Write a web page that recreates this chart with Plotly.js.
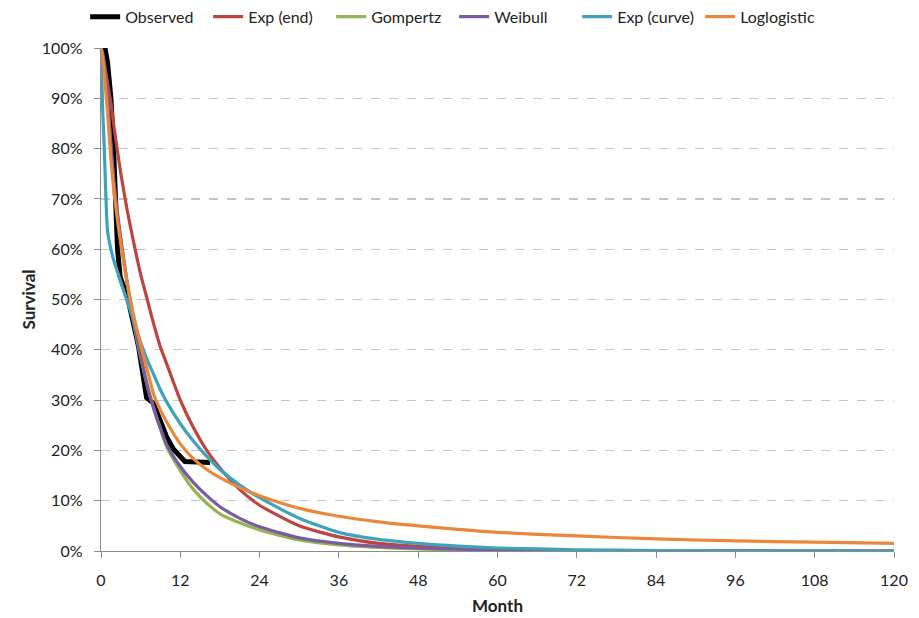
<!DOCTYPE html>
<html>
<head>
<meta charset="utf-8">
<script src="https://cdn.plot.ly/plotly-3.0.1.min.js"></script>
<style>html,body{margin:0;padding:0;background:#fff;}#chart{width:919px;height:618px;}</style>
</head>
<body>
<div id="chart"></div>
<script>
// Observed (Kaplan-Meier style)
const obsMonth = [0, 0.6, 1, 1.5, 1.9, 2.2, 2.5, 2.9, 4.1, 5.7, 6.9, 7.9, 9, 10, 11, 12, 12.7, 16.5];
const obsSurv  = [100, 100, 97, 90, 80, 70, 60, 54.5, 50, 40.5, 30.5, 29.4, 25.5, 22.5, 20.2, 18.6, 17.8, 17.6];

// Fitted curves (survival %, read at these months)
const months = [0, 0.25, 0.5, 0.75, 1, 1.5, 2, 3, 4, 5, 6, 7, 8, 9, 10, 12, 14, 16, 18, 21, 24, 30, 36, 42, 48, 54, 60, 72, 84, 96, 108, 120];
const expEnd     = [100, 98.5, 97, 95, 93, 89, 84, 75, 67.5, 61, 55, 50, 45, 40.5, 37, 30, 24.5, 20, 16.5, 12.2, 9.1, 5.0, 2.8, 1.5, 0.9, 0.5, 0.3, 0.1, 0.03, 0.01, 0, 0];
const gompertz   = [100, 98.5, 96, 93, 89, 80, 72, 62, 53, 45, 38.5, 33, 28.3, 24.2, 20.5, 16, 12.2, 9.5, 7.4, 5.6, 4.2, 2.2, 1.2, 0.7, 0.4, 0.2, 0.1, 0.03, 0, 0, 0, 0];
const weibull    = [100, 99, 97, 94, 90, 81, 73, 62, 53, 45.5, 39, 32.8, 28.2, 24.4, 21, 16.8, 13.6, 11.0, 8.8, 6.5, 4.8, 2.6, 1.5, 0.9, 0.55, 0.35, 0.2, 0.08, 0.03, 0.01, 0, 0];
const expCurve   = [100, 88, 80, 70, 63.5, 60, 57.5, 53.5, 49.5, 45.5, 41.5, 38, 35, 32, 29.5, 25.3, 21.8, 18.8, 16.2, 13.1, 10.6, 6.5, 3.7, 2.3, 1.5, 0.95, 0.6, 0.25, 0.1, 0.04, 0.02, 0];
const loglogistic= [100, 98, 95, 91, 87, 78, 71, 61, 53, 46.5, 41, 36, 31, 28, 25.5, 21.3, 18.3, 16.2, 14.6, 12.6, 11, 8.5, 6.9, 5.8, 5.0, 4.3, 3.7, 3.0, 2.4, 2.0, 1.75, 1.5];

const seriesNames = ["Observed", "Exp (end)", "Gompertz", "Weibull", "Exp (curve)", "Loglogistic"];
const yTicks = [0, 10, 20, 30, 40, 50, 60, 70, 80, 90, 100];
const xTicks = [0, 12, 24, 36, 48, 60, 72, 84, 96, 108, 120];

const colors = ["#000000", "#BC4541", "#93B554", "#7A5C9E", "#3FA2BD", "#EA873B"];
const fits = [expEnd, gompertz, weibull, expCurve, loglogistic];

const traces = [{
  x: obsMonth, y: obsSurv, type: "scatter", mode: "lines", name: seriesNames[0],
  line: {color: colors[0], width: 5, shape: "linear"}
}];
fits.forEach((arr, i) => {
  traces.push({
    x: months, y: arr, type: "scatter", mode: "lines", name: seriesNames[i + 1],
    line: {color: colors[i + 1], width: 3.2, shape: "spline", smoothing: 0.6}
  });
});

const font = "Lato, 'Open Sans', sans-serif";
const layout = {
  width: 919, height: 618,
  margin: {l: 101, r: 25, t: 48, b: 67, autoexpand: false},
  paper_bgcolor: "#fff", plot_bgcolor: "#fff",
  font: {family: font, size: 15, color: "#222"},
  showlegend: true,
  legend: {orientation: "h", x: -0.02, xanchor: "left", y: 1.062, yanchor: "middle",
           font: {family: font, size: 16, color: "#222"}, entrywidth: 78, entrywidthmode: "pixels",
           traceorder: "normal"},
  xaxis: {
    range: [0, 120], tickvals: xTicks, ticktext: xTicks.map(String),
    showgrid: false, zeroline: false, showline: true, linecolor: "#8c8c8c", linewidth: 1.3,
    ticks: "outside", ticklen: 6, tickcolor: "#8c8c8c", ticklabelstandoff: 8,
    tickfont: {size: 16},
    title: {text: "<b>Month</b>", font: {family: font, size: 17, color: "#222"}, standoff: 12}
  },
  yaxis: {
    range: [0, 100], tickvals: yTicks, ticktext: yTicks.map(v => v + "%"),
    showgrid: true, gridcolor: "#c4c4c4", griddash: "dash", gridwidth: 1.2,
    zeroline: false, showline: true, linecolor: "#8c8c8c", linewidth: 1.3,
    ticks: "outside", ticklen: 6, tickcolor: "#8c8c8c", ticklabelstandoff: 8,
    tickfont: {size: 16},
    title: {text: "<b>Survival</b>", font: {family: font, size: 17, color: "#222"}, standoff: 2}
  }
};
Plotly.newPlot("chart", traces, layout, {staticPlot: true, displayModeBar: false});
</script>
</body>
</html>
